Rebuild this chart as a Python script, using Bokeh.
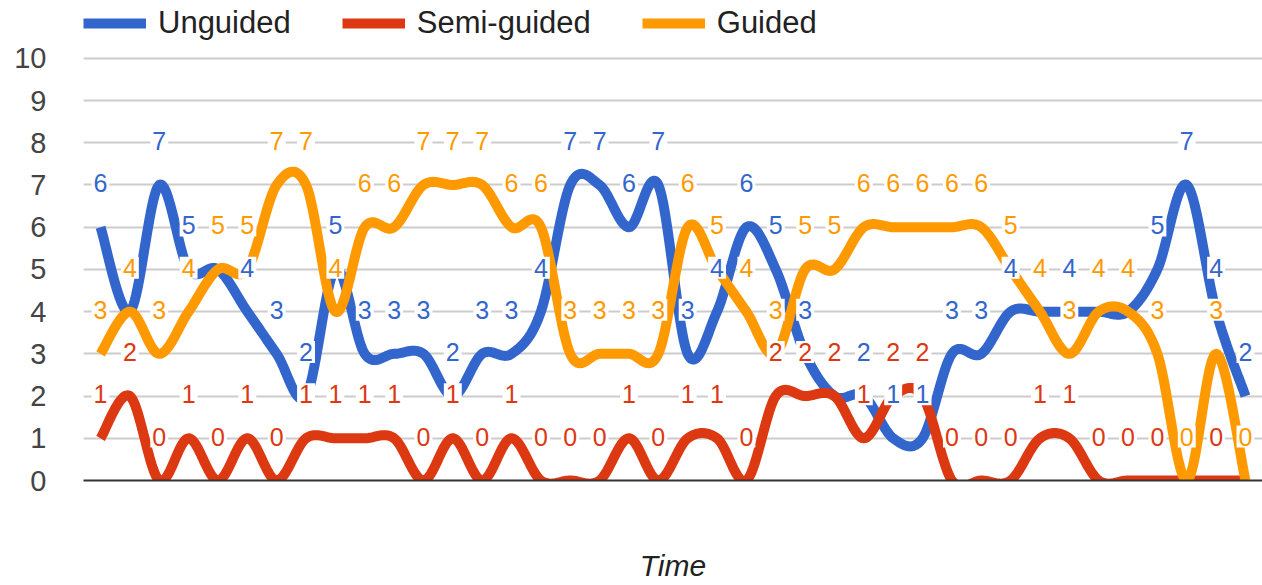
import numpy as np
from bokeh.plotting import figure
from bokeh.models import Range1d, FixedTicker, Legend, LegendItem, ColumnDataSource
from bokeh.core.properties import value
from bokeh.embed import file_html
from bokeh.resources import INLINE

# Observation steps along the time axis
time_steps = list(range(40))

# Series values per time step
unguided = [6, 4, 7, 5, 5, 4, 3, 2, 5, 3,
            3, 3, 2, 3, 3, 4, 7, 7, 6, 7,
            3, 4, 6, 5, 3, 2, 2, 1, 1, 3,
            3, 4, 4, 4, 4, 4, 5, 7, 4, 2]
semi_guided = [1, 2, 0, 1, 0, 1, 0, 1, 1, 1,
               1, 0, 1, 0, 1, 0, 0, 0, 1, 0,
               1, 1, 0, 2, 2, 2, 1, 2, 2, 0,
               0, 0, 1, 1, 0, 0, 0, 0, 0, 0]
guided = [3, 4, 3, 4, 5, 5, 7, 7, 4, 6,
          6, 7, 7, 7, 6, 6, 3, 3, 3, 3,
          6, 5, 4, 3, 5, 5, 6, 6, 6, 6,
          6, 5, 4, 3, 4, 4, 3, 0, 3, 0]

series_names = ["Unguided", "Semi-guided", "Guided"]
series_values = [unguided, semi_guided, guided]
y_ticks = list(range(0, 11))

colors = ["#3366cc", "#dc3912", "#ff9900"]
FONT = "Liberation Sans"


def smooth_curve(xs, ys, tension=1 / 6, steps=24):
    """Cubic Bezier (Catmull-Rom style) curve passing through every point."""
    x = np.asarray(xs, dtype=float)
    y = np.asarray(ys, dtype=float)
    xp = np.concatenate([[x[0]], x, [x[-1]]])
    yp = np.concatenate([[y[0]], y, [y[-1]]])
    s = np.linspace(0.0, 1.0, steps, endpoint=False)
    b0, b1, b2, b3 = (1 - s) ** 3, 3 * (1 - s) ** 2 * s, 3 * (1 - s) * s ** 2, s ** 3
    out_x, out_y = [], []
    for i in range(len(x) - 1):
        cx0 = x[i] + (xp[i + 2] - xp[i]) * tension
        cy0 = y[i] + (yp[i + 2] - yp[i]) * tension
        cx1 = x[i + 1] - (xp[i + 3] - xp[i + 1]) * tension
        cy1 = y[i + 1] - (yp[i + 3] - yp[i + 1]) * tension
        out_x.append(b0 * x[i] + b1 * cx0 + b2 * cx1 + b3 * x[i + 1])
        out_y.append(b0 * y[i] + b1 * cy0 + b2 * cy1 + b3 * y[i + 1])
    out_x.append([x[-1]])
    out_y.append([y[-1]])
    return np.concatenate(out_x), np.concatenate(out_y)


p = figure(
    frame_width=1179, frame_height=480,
    min_border_left=83, min_border_right=0, min_border_top=0, min_border_bottom=105,
    x_range=Range1d(-0.58, len(time_steps) - 1 + 0.58),
    y_range=Range1d(0, 11.37),
    output_backend="svg", toolbar_location=None,
)
p.outline_line_color = None
p.background_fill_color = "white"
p.border_fill_color = "white"

# value axis
p.yaxis.ticker = FixedTicker(ticks=y_ticks)
p.yaxis.axis_line_color = None
p.yaxis.major_tick_line_color = None
p.yaxis.minor_tick_line_color = None
p.yaxis.major_label_standoff = 31
p.yaxis.major_label_text_font = FONT
p.yaxis.major_label_text_font_size = "29px"
p.yaxis.major_label_text_color = "#444444"
p.ygrid.grid_line_color = "#cccccc"
p.ygrid.grid_line_width = 2
p.xgrid.grid_line_color = None

# time axis: baseline plus title only
p.xaxis.ticker = FixedTicker(ticks=[])
p.xaxis.axis_line_color = "#333333"
p.xaxis.axis_line_width = 2
p.xaxis.major_tick_line_color = None
p.xaxis.minor_tick_line_color = None
p.xaxis.major_tick_out = 0
p.xaxis.major_label_standoff = 0
p.xaxis.axis_label = "Time"
p.xaxis.axis_label_standoff = 68
p.xaxis.axis_label_text_font = FONT
p.xaxis.axis_label_text_font_size = "30px"
p.xaxis.axis_label_text_font_style = "italic"
p.xaxis.axis_label_text_color = "#222222"

# smoothed series lines
line_renderers = []
for name, vals, col in zip(series_names, series_values, colors):
    cx, cy = smooth_curve(time_steps, vals)
    r = p.line(cx, cy, line_width=10, line_color=col, line_join="round", line_cap="butt")
    line_renderers.append(r)

# value labels above each point; a later series' label hides an earlier one at the same spot
shown = [[True] * len(time_steps) for _ in series_values]
for k in range(len(series_values)):
    for i in range(len(time_steps)):
        for later in range(k + 1, len(series_values)):
            if abs(series_values[later][i] - series_values[k][i]) < 0.6:
                shown[k][i] = False

for k, (vals, col) in enumerate(zip(series_values, colors)):
    xs = [t for t, ok in zip(time_steps, shown[k]) if ok]
    ys = [v for v, ok in zip(vals, shown[k]) if ok]
    src = ColumnDataSource(dict(x=xs, y=ys, text=[str(v) for v in ys]))
    p.text(
        x="x", y="y", text="text", source=src,
        text_color=col, text_font=value(FONT), text_font_size="25px",
        text_align="center", text_baseline="middle", y_offset=-44,
        background_fill_color="white", padding=2,
    )

legend = Legend(
    items=[LegendItem(label=n, renderers=[r]) for n, r in zip(series_names, line_renderers)],
    location="top_left", orientation="horizontal",
    margin=0, padding=0, spacing=51,
    glyph_width=63, glyph_height=46, label_standoff=12, label_height=46,
    label_text_font=FONT, label_text_font_size="31px", label_text_color="#222222",
    border_line_color=None, background_fill_alpha=0,
)
p.add_layout(legend)

open("out.html", "w").write(file_html(p, INLINE))
